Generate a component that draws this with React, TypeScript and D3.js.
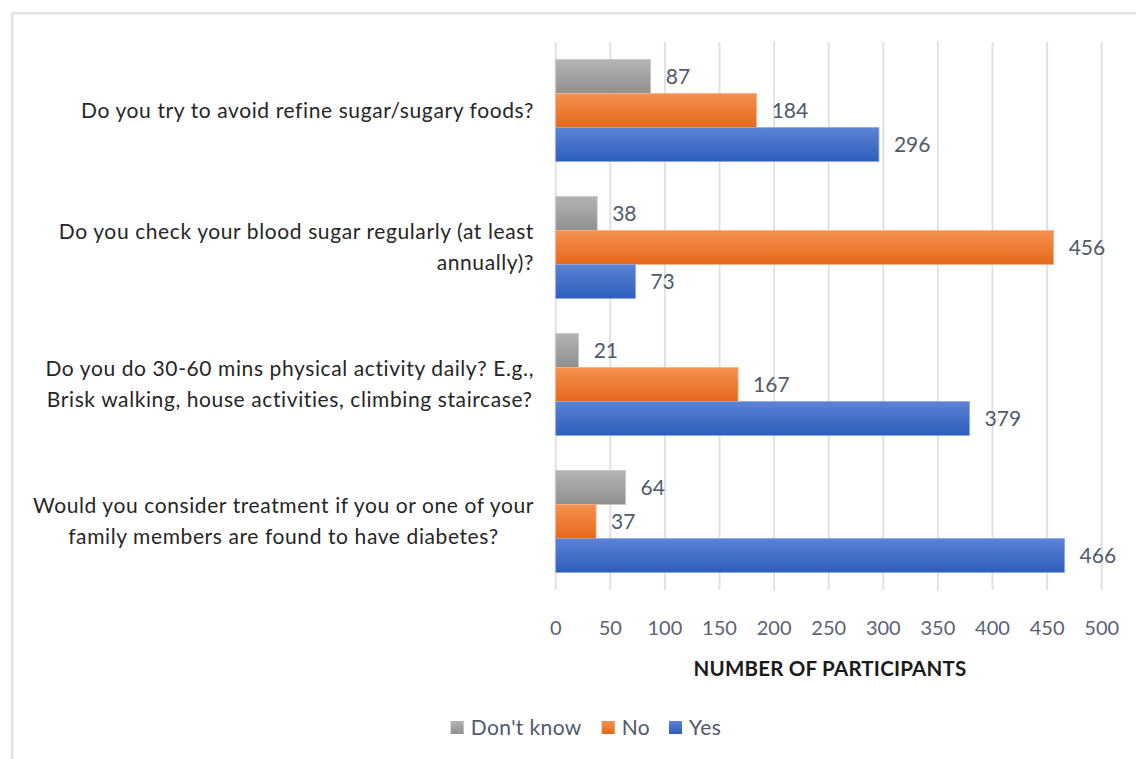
import React, { useEffect, useRef } from "react";
import * as d3 from "d3";

const categories = [
  "Do you try to avoid refine sugar/sugary foods?",
  "Do you check your blood sugar regularly (at least|annually)?",
  "Do you do 30-60 mins physical activity daily? E.g.,|Brisk walking, house activities, climbing staircase?",
  "Would you consider treatment if you or one of your|family members are found to have diabetes?",
];
const seriesNames = ["Don't know", "No", "Yes"];
const dontKnow = [87, 38, 21, 64];
const no = [184, 456, 167, 37];
const yes = [296, 73, 379, 466];
const xTicks = [0, 50, 100, 150, 200, 250, 300, 350, 400, 450, 500];
const axisTitle = "NUMBER OF PARTICIPANTS";

const W = 1136;
const H = 759;
const FONT = "Lato, 'Liberation Sans', sans-serif";

export default function App() {
  const ref = useRef<SVGSVGElement>(null);

  useEffect(() => {
    const svg = d3.select(ref.current);
    svg.selectAll("*").remove();

    const values = [dontKnow, no, yes];
    const colors = [
      ["#b4b4b4", "#8f8f8f", "#c8c8c8"],
      ["#f5914f", "#e5681a", "#f7b184"],
      ["#5c83d4", "#2d5dbd", "#8fa9e0"],
    ];

    const defs = svg.append("defs");
    colors.forEach((c, i) => {
      const g = defs
        .append("linearGradient")
        .attr("id", "grad" + i)
        .attr("x1", 0)
        .attr("y1", 0)
        .attr("x2", 0)
        .attr("y2", 1);
      g.append("stop").attr("offset", "0%").attr("stop-color", c[0]);
      g.append("stop").attr("offset", "100%").attr("stop-color", c[1]);
    });

    // frame
    svg
      .append("rect")
      .attr("x", 12.3)
      .attr("y", 13.3)
      .attr("width", 1300)
      .attr("height", 900)
      .attr("fill", "none")
      .attr("stroke", "#dfe3ea")
      .attr("stroke-width", 2.5);

    const x = d3.scaleLinear().domain([0, 500]).range([555.7, 1101.7]);
    const y = d3
      .scaleBand<number>()
      .domain(categories.map((_, i) => i))
      .range([42, 590])
      .paddingInner(0.255)
      .paddingOuter(0.1275);
    const inner = d3
      .scaleBand<number>()
      .domain([0, 1, 2])
      .range([0, y.bandwidth()]);

    // gridlines
    svg
      .append("g")
      .selectAll("line")
      .data(xTicks)
      .join("line")
      .attr("x1", (d) => x(d))
      .attr("x2", (d) => x(d))
      .attr("y1", 42)
      .attr("y2", 590)
      .attr("stroke", "#dde2ea")
      .attr("stroke-width", 2);

    // bars
    values.forEach((vals, s) => {
      const g = svg.append("g");
      g.selectAll("rect")
        .data(vals)
        .join("rect")
        .attr("x", x(0))
        .attr("y", (_, i) => (y(i) as number) + (inner(s) as number))
        .attr("width", (d) => x(d) - x(0))
        .attr("height", inner.bandwidth())
        .attr("fill", `url(#grad${s})`)
        .attr("stroke", colors[s][2])
        .attr("stroke-width", 0.8);
      g.selectAll("text")
        .data(vals)
        .join("text")
        .attr("x", (d) => x(d) + 15)
        .attr("y", (_, i) => (y(i) as number) + (inner(s) as number) + inner.bandwidth() / 2)
        .attr("dy", "0.35em")
        .attr("font-family", FONT)
        .attr("font-size", 21)
        .attr("fill", "#4f5a6b")
        .text((d) => String(d));
    });

    // tick labels
    svg
      .append("g")
      .selectAll("text")
      .data(xTicks)
      .join("text")
      .attr("x", (d) => x(d))
      .attr("y", 627.5)
      .attr("dy", "0.35em")
      .attr("text-anchor", "middle")
      .attr("font-family", FONT)
      .attr("font-size", 20)
      .attr("fill", "#5a6375")
      .text((d) => String(d));

    // axis title
    svg
      .append("text")
      .attr("x", 830)
      .attr("y", 669)
      .attr("dy", "0.35em")
      .attr("text-anchor", "middle")
      .attr("font-family", FONT)
      .attr("font-weight", "bold")
      .attr("font-size", 20.5)
      .attr("letter-spacing", 0.2)
      .attr("fill", "#1a1a1a")
      .text(axisTitle);

    // category labels
    const rightAlignWrap = [false, true, false, false];
    const lineH = 31;
    const labelRight = 534;
    categories.forEach((c, i) => {
      const lines = c.split("|");
      const cy = (y(i) as number) + y.bandwidth() / 2;
      const g = svg.append("g");
      const texts = lines.map((ln, j) =>
        g
          .append("text")
          .attr("y", cy + (j - (lines.length - 1) / 2) * lineH)
          .attr("dy", "0.35em")
          .attr("font-family", FONT)
          .attr("font-size", 21)
          .attr("letter-spacing", 0.6)
          .attr("fill", "#262626")
          .text(ln)
      );
      const widths = texts.map((t) => (t.node() as SVGTextElement).getComputedTextLength());
      const maxW = Math.max(...widths);
      texts.forEach((t, j) => {
        if (rightAlignWrap[i]) {
          t.attr("x", labelRight).attr("text-anchor", "end");
        } else {
          t.attr("x", labelRight - maxW / 2).attr("text-anchor", "middle");
        }
      });
    });

    // legend
    const legendX = [450.7, 601.7, 669];
    const lg = svg.append("g");
    seriesNames.forEach((n, s) => {
      lg.append("rect")
        .attr("x", legendX[s])
        .attr("y", 721)
        .attr("width", 13)
        .attr("height", 13)
        .attr("fill", `url(#grad${s})`);
      lg.append("text")
        .attr("x", legendX[s] + 20)
        .attr("y", 727.5)
        .attr("dy", "0.35em")
        .attr("font-family", FONT)
        .attr("font-size", 21)
        .attr("letter-spacing", 0.4)
        .attr("fill", "#4f5a6b")
        .text(n);
    });
  }, []);

  return (
    <svg
      ref={ref}
      width={W}
      height={H}
      style={{ position: "absolute", left: 0, top: 0, background: "#fff" }}
    />
  );
}
